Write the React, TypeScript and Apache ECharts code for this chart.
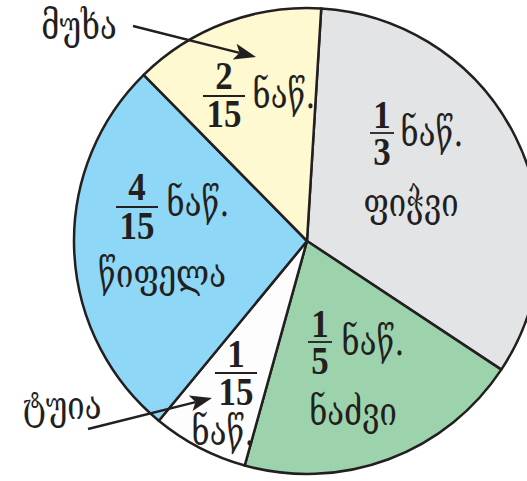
import React, { useEffect, useRef } from "react";
import * as echarts from "echarts";

// Data
const names = ["ფიჭვი", "ნაძვი", "ტუია", "წიფელა", "მუხა"];
const numerators = [1, 1, 1, 4, 2];
const denominators = [3, 5, 15, 15, 15];
const unitLabel = "ნაწ.";
const colors = ["#e3e4e6", "#9cd3ac", "#fdfdfd", "#8ed7f7", "#fff9d1"];

// Layout (label positions, px)
const fracPos = [
  { x: 382, yn: 115, yb: 133, yd: 152, hw: 12, ux: 432, uy: 132, nx: 411, ny: 202 },
  { x: 320, yn: 324, yb: 342, yd: 361, hw: 12, ux: 373, uy: 341, nx: 353, ny: 411 },
  { x: 236, yn: 354, yb: 373, yd: 392, hw: 21, ux: 223, uy: 431, nx: 62, ny: 405 },
  { x: 137, yn: 187, yb: 207, yd: 226, hw: 21, ux: 198, uy: 202, nx: 162, ny: 273 },
  { x: 224, yn: 76, yb: 96, yd: 114, hw: 21, ux: 284, uy: 94, nx: 79, ny: 25 },
];
const arrows = [
  { from: [133, 26], to: [256, 57] },
  { from: [88, 429], to: [212, 398] },
];

const INK = "#231f20";
const FRAC_FONT = '"Liberation Serif", "DejaVu Serif", serif';
const GEO_FONT = '"DejaVu Serif", "DejaVu Sans", sans-serif';

function arrowHead(from: number[], to: number[]) {
  const dx = to[0] - from[0];
  const dy = to[1] - from[1];
  const L = Math.hypot(dx, dy);
  const ux = dx / L, uy = dy / L;
  const len = 22, hw = 8;
  const bx = to[0] - ux * len, by = to[1] - uy * len;
  return [
    [to[0], to[1]],
    [bx - uy * hw, by + ux * hw],
    [bx + ux * 5, by + uy * 5],
    [bx + uy * hw, by - ux * hw],
  ];
}

export default function App() {
  const ref = useRef<HTMLDivElement>(null);
  useEffect(() => {
    document.body.style.margin = "0";
    const chart = echarts.init(ref.current!, null, { renderer: "svg" });
    const graphics: any[] = [];
    const Z = 100;
    const digit = (x: number, y: number, t: string) => ({
      type: "text", x, y, z: Z, scaleX: 0.92, scaleY: 1.05,
      style: { text: t, fontSize: 38, fontWeight: "bold", fontFamily: FRAC_FONT, fill: INK, align: "center", verticalAlign: "middle" },
    });
    const geo = (x: number, y: number, t: string) => ({
      type: "text", x, y, z: Z, scaleX: 1.0, scaleY: 1.25,
      style: { text: t, fontSize: 31, fontFamily: GEO_FONT, fill: INK, align: "center", verticalAlign: "middle" },
    });
    fracPos.forEach((p, i) => {
      graphics.push(digit(p.x, p.yn, String(numerators[i])));
      graphics.push({
        type: "line", z: Z, shape: { x1: p.x - p.hw, y1: p.yb, x2: p.x + p.hw, y2: p.yb },
        style: { stroke: INK, lineWidth: 1.8 },
      });
      graphics.push(digit(p.x, p.yd, String(denominators[i])));
      graphics.push(geo(p.ux, p.uy, unitLabel));
      graphics.push(geo(p.nx, p.ny, names[i]));
    });
    arrows.forEach((a) => {
      const head = arrowHead(a.from, a.to);
      graphics.push({
        type: "line", z: Z,
        shape: { x1: a.from[0], y1: a.from[1], x2: head[2][0], y2: head[2][1] },
        style: { stroke: INK, lineWidth: 2.5 },
      });
      graphics.push({ type: "polygon", z: Z, shape: { points: head }, style: { fill: INK } });
    });

    chart.setOption({
      animation: false,
      series: [
        {
          type: "pie",
          center: [307, 241],
          radius: 233,
          startAngle: 86.5,
          clockwise: true,
          silent: true,
          z: 1,
          label: { show: false },
          labelLine: { show: false },
          itemStyle: { borderColor: INK, borderWidth: 2.5 },
          data: names.map((n, i) => ({
            name: n,
            value: numerators[i] / denominators[i],
            itemStyle: { color: colors[i] },
          })),
        },
      ],
      graphic: { elements: graphics },
    });
    return () => chart.dispose();
  }, []);
  return <div ref={ref} style={{ width: 527, height: 481 }} />;
}
